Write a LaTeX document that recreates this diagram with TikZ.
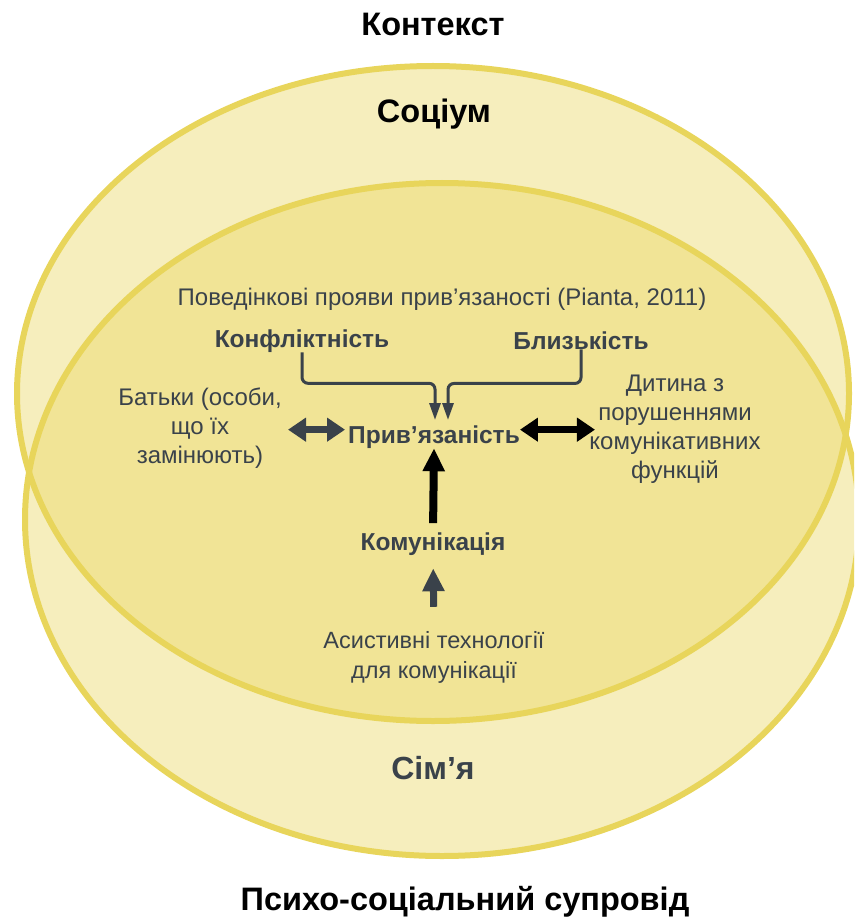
\documentclass[tikz,border=0pt]{standalone}
\usepackage{fontspec}
\setmainfont{Liberation Sans}
\usetikzlibrary{arrows.meta}
\definecolor{rim}{HTML}{E8D55B}
\definecolor{pale}{HTML}{F6EEBD}
\definecolor{core}{HTML}{F1E496}
\definecolor{ink}{HTML}{3A424A}

\begin{document}
\begin{tikzpicture}[x=1pt, y=-1pt, >=Triangle,
    title/.style={font=\fontsize{32.5}{38}\selectfont\bfseries, anchor=base, inner sep=0pt},
    term/.style={font=\fontsize{24.5}{29}\selectfont\bfseries, text=ink, anchor=base, inner sep=0pt},
    note/.style={font=\fontsize{24}{29}\selectfont, text=ink, align=center, anchor=base, inner sep=0pt},
    link/.style={ink, line width=3pt, rounded corners=6pt, -{Triangle[length=17pt, width=11pt]}},
    both/.style={line width=6.5pt, {Triangle[length=18pt, width=23pt]}-{Triangle[length=18pt, width=23pt]}},
    push/.style={line width=8pt, -{Triangle[length=23pt, width=21pt]}}]
    \clip (0,0) rectangle (854,917);

    % Ellipses
    \fill[pale] (433,393.5) ellipse [x radius=416pt, y radius=327.5pt];
    \fill[pale] (442,519.5) ellipse [x radius=417pt, y radius=336.5pt];
    \begin{scope}
        \clip (433,393.5) ellipse [x radius=416pt, y radius=327.5pt];
        \fill[core] (442,519.5) ellipse [x radius=417pt, y radius=336.5pt];
    \end{scope}
    \draw[rim, line width=6pt] (433,393.5) ellipse [x radius=416pt, y radius=327.5pt];
    \draw[rim, line width=6pt] (442,519.5) ellipse [x radius=417pt, y radius=336.5pt];

    % Titles
    \node[title] (ctx) at (433,36) {Контекст};
    \node[title] (soc) at (434,123) {Соціум};
    \node[title, text=ink, font=\fontsize{32}{38}\selectfont\bfseries] (fam) at (433,779) {Сім’я};
    \node[title] (care) at (465,910) {Психо-соціальний супровід};

    % Inner texts (multi-line nodes sit on their last line)
    \node[note] (beh) at (442,305) {Поведінкові прояви прив’язаності (Pianta, 2011)};
    \node[term] (conf) at (302,347) {Конфліктність};
    \node[term] (close) at (581,349) {Близькість};
    \node[term] (att) at (434,443) {Прив’язаність};
    \node[term] (comm) at (433,550) {Комунікація};
    \node[note] (par) at (200,463) {Батьки (особи,\\що їх\\замінюють)};
    \node[note] (kid) at (675,478) {Дитина з\\порушеннями\\комунікативних\\функцій};
    \node[note, font=\fontsize{23.5}{30}\selectfont] (aac) at (434,678) {Асистивні технології\\для комунікації};

    % Arrows
    \coordinate (tipL) at (435,420);
    \coordinate (tipR) at (448,420);
    \draw[link] (conf.south) -- ++(0,31) -| (tipL);
    \draw[link] (close.south) -- ++(0,34) -| (tipR);
    \draw[both, ink] ([xshift=-3pt, yshift=7pt]att.west) -- ([xshift=-60pt, yshift=7pt]att.west);
    \draw[both, black] ([xshift=0pt, yshift=7pt]att.east) -- ([xshift=75pt, yshift=7pt]att.east);
    \draw[push, black, shorten <=9pt] (comm.north) -- (att.south);
    \draw[push, ink, line width=7pt, shorten <=24pt, shorten >=13pt] (aac.north) -- (comm.south);
\end{tikzpicture}
\end{document}
